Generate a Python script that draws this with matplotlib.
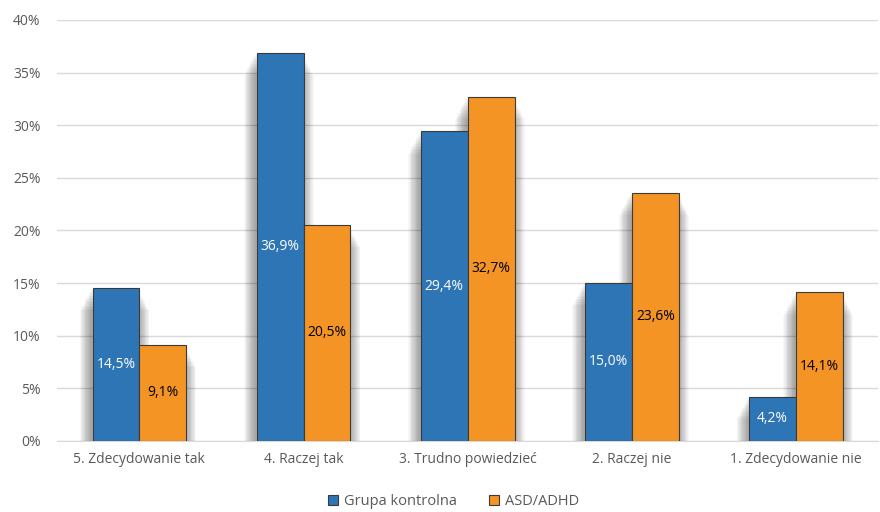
import numpy as np
import matplotlib.pyplot as plt
from matplotlib.patches import Rectangle

categories = ["5. Zdecydowanie tak", "4. Raczej tak", "3. Trudno powiedzieć",
              "2. Raczej nie", "1. Zdecydowanie nie"]
kontrolna = [14.5, 36.9, 29.4, 15.0, 4.2]
asd_adhd = [9.1, 20.5, 32.7, 23.6, 14.1]
yticks = [0, 5, 10, 15, 20, 25, 30, 35, 40]

blue = "#2E75B6"
orange = "#F39425"
gray_txt = "#595959"

plt.rcParams['font.family'] = ['Open Sans', 'DejaVu Sans']

fig = plt.figure(figsize=(8.8, 5.12), dpi=100)
ax = fig.add_axes([0.065, 0.139, 0.933, 0.822])

x = np.arange(len(categories))
w = 0.285

# soft shadow behind each bar (layered translucent rects, no top overhang)
for i in range(len(categories)):
    for xs, h in [(x[i] - w, kontrolna[i]), (x[i], asd_adhd[i])]:
        for k in range(14):
            pad = 0.005 * (k + 1)
            top = max(h - 0.15 * (k + 1), 0)
            ax.add_patch(Rectangle((xs - pad - 0.008, 0), w + 2 * pad, top,
                                   facecolor="black", alpha=0.026, lw=0, zorder=1))

b1 = ax.bar(x - w / 2, kontrolna, w, color=blue, edgecolor="#3a3a3a", linewidth=0.8,
            label="Grupa kontrolna", zorder=3)
b2 = ax.bar(x + w / 2, asd_adhd, w, color=orange, edgecolor="#3a3a3a", linewidth=0.8,
            label="ASD/ADHD", zorder=3)

for xi, v in zip(x, kontrolna):
    ax.text(xi - w / 2, v / 2, f"{v:.1f}%".replace(".", ","), ha="center", va="center",
            color="white", fontsize=10, zorder=4)
for xi, v in zip(x, asd_adhd):
    ax.text(xi + w / 2, v / 2, f"{v:.1f}%".replace(".", ","), ha="center", va="center",
            color="black", fontsize=10, zorder=4)

ax.set_ylim(0, 40)
ax.set_xlim(-0.5, len(categories) - 0.5)
ax.set_yticks(yticks)
ax.set_yticklabels([f"{t}%" for t in yticks])
ax.set_xticks(x)
ax.set_xticklabels(categories)
ax.tick_params(axis="both", length=0, labelsize=10, colors=gray_txt)
ax.tick_params(axis="x", pad=8)
ax.tick_params(axis="y", pad=12)
ax.yaxis.grid(True, color="#D9D9D9", linewidth=1)
ax.set_axisbelow(True)
for s in ["top", "right", "left"]:
    ax.spines[s].set_visible(False)
ax.spines["bottom"].set_color("#D9D9D9")

leg = fig.legend(handles=[b1, b2], loc="center", bbox_to_anchor=(0.515, 0.02),
                 ncol=2, frameon=False, fontsize=10.5, handlelength=0.7, handleheight=0.7,
                 columnspacing=2.2, handletextpad=0.4)
for t in leg.get_texts():
    t.set_color(gray_txt)

fig.savefig("out.png", dpi=100)
